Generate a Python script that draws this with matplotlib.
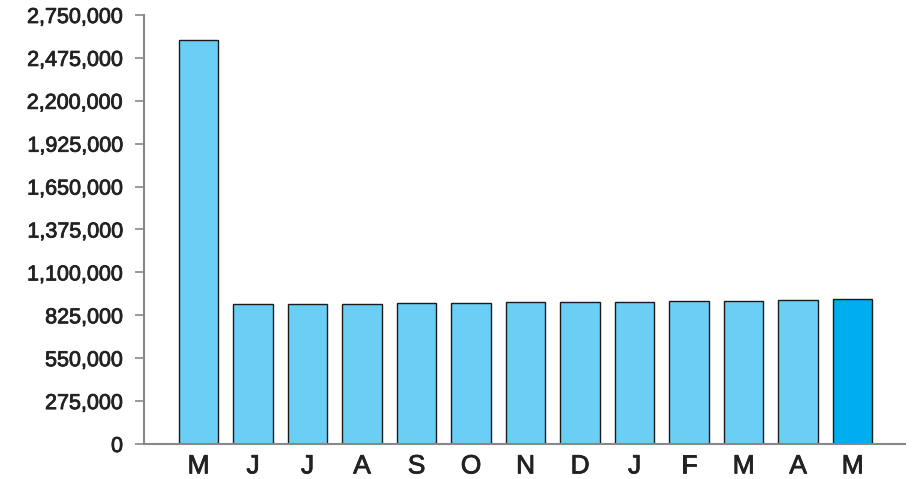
import numpy as np
import matplotlib.pyplot as plt
import matplotlib.patheffects as pe
from matplotlib.ticker import FuncFormatter

months = ["M", "J", "J", "A", "S", "O", "N", "D", "J", "F", "M", "A", "M"]
values = [2590000, 895000, 899000, 899000, 903000, 905000, 907000,
          909000, 910000, 914000, 918000, 923000, 927000]
y_ticks = np.arange(0, 2750001, 275000)

light = "#6acef5"
dark = "#00aeef"
colors = [light] * (len(values) - 1) + [dark]

plt.rcParams['font.family'] = ['Liberation Sans', 'DejaVu Sans']

fig = plt.figure(figsize=(9.13, 4.79), dpi=100)
ax = fig.add_axes([0.1577, 0.0731, 0.9912 - 0.1577, 0.9687 - 0.0731])

x = np.arange(len(values))
ax.bar(x, values, width=0.72, color=colors, edgecolor="#1a1a1a", linewidth=1)

ax.set_xlim(-1, 12.96)
ax.set_ylim(0, 2750000)
ax.set_yticks(y_ticks)
ax.yaxis.set_major_formatter(FuncFormatter(lambda v, p: f"{int(v):,}"))
ax.set_xticks(x)
ax.set_xticklabels(months)

for side in ["top", "right"]:
    ax.spines[side].set_visible(False)
for side in ["left", "bottom"]:
    ax.spines[side].set_color("#888888")
    ax.spines[side].set_linewidth(1.5)

ax.tick_params(axis="y", length=6.5, width=1.2, color="#888888",
               labelsize=15.5, labelcolor="#222222", pad=8.5)
ax.tick_params(axis="x", length=0, labelsize=19, labelcolor="#222222", pad=7.5)

# slightly heavier strokes, like a medium weight
thick = [pe.withStroke(linewidth=0.6, foreground="#222222")]
for lbl in ax.get_xticklabels() + ax.get_yticklabels():
    lbl.set_path_effects(thick)

fig.savefig("out.png", dpi=100)
